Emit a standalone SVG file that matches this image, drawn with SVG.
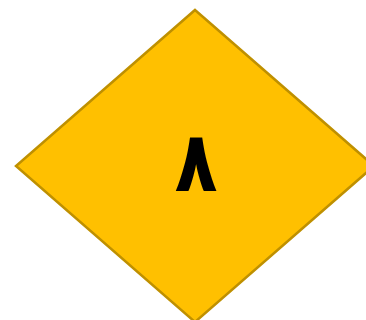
<svg xmlns="http://www.w3.org/2000/svg" width="366" height="320" viewBox="0 0 366 320">
<style>
.shape{fill:#FFC000;stroke:#BF9000;stroke-width:2.5}
.lbl{font-family:"DejaVu Sans","Noto Sans",sans-serif;font-weight:bold;font-size:70px;fill:#000;text-anchor:middle}
</style>
<g id="node1">
<polygon class="shape" points="195,10 374,166 195,322 16,166"/>
<text class="lbl" transform="translate(196,191) scale(1,1.2)" x="0" y="0">٨</text>
</g>
<g id="connectors"/>
</svg>
